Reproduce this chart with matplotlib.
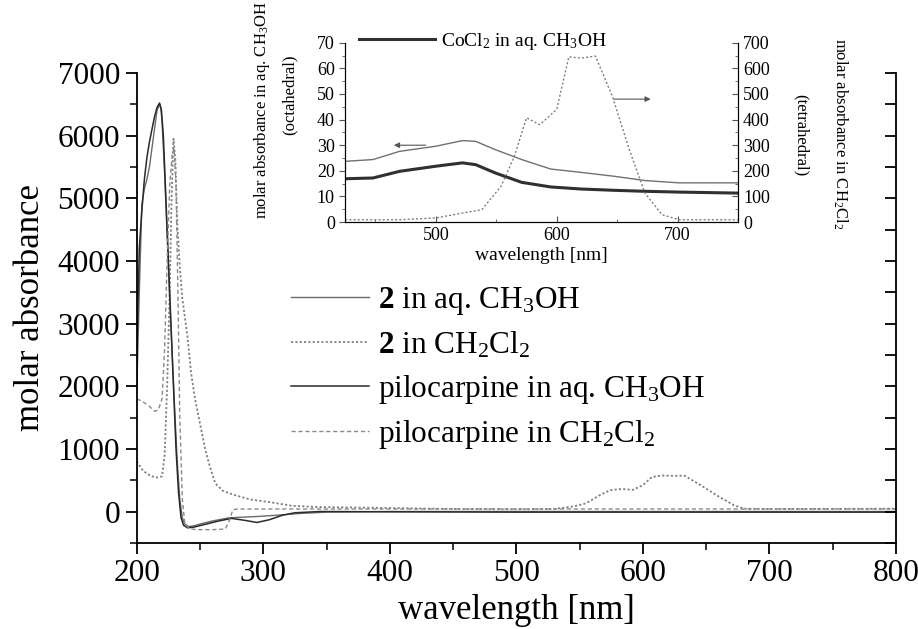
import matplotlib
matplotlib.use("Agg")
import matplotlib.pyplot as plt
from matplotlib.ticker import MultipleLocator

plt.rcParams['font.family'] = ['Liberation Serif', 'DejaVu Serif']
plt.rcParams['mathtext.fontset'] = 'custom'
plt.rcParams['mathtext.rm'] = 'Liberation Serif'
plt.rcParams['mathtext.it'] = 'Liberation Serif:italic'
plt.rcParams['mathtext.bf'] = 'Liberation Serif:bold'

# ---- main spectra (wavelength in nm, molar absorbance) ----
wl_2_aq = [200, 202, 204, 206, 208, 210, 212, 214, 216, 218, 219, 220, 222, 224, 226, 228,
           230, 232, 234, 236, 238, 241, 245, 250, 260, 273, 285, 295, 310, 330, 350, 400, 500, 600, 700, 800]
abs_2_aq = [1900, 3500, 4900, 5150, 5300, 5500, 5800, 6100, 6400, 6500, 6450, 6200, 5400, 4400, 3400, 2500,
            1600, 800, 200, -100, -200, -240, -230, -200, -150, -100, -90, -80, -60, -30, -10, 0, 0, 0, 0, 0]

wl_pilo_aq = [200, 202, 204, 206, 208, 210, 212, 214, 216, 218, 219.5, 221, 223, 225, 227, 229, 231,
              233, 235, 237, 240, 245, 255, 265, 275, 285, 295, 305, 315, 325, 345, 400, 500, 600, 700, 800]
abs_pilo_aq = [2500, 4200, 4800, 5300, 5650, 5900, 6100, 6300, 6450, 6520, 6400, 6000, 5000, 4000, 3000, 2000, 1000,
               300, -100, -220, -260, -250, -200, -150, -110, -140, -175, -130, -60, -20, 0, -5, -10, -10, -10, -10]

wl_2_dcm = [200, 205, 210, 215, 220, 222, 224, 226, 227.5, 229, 230.5, 232, 234, 236, 238, 240, 243, 246,
            250, 254, 258, 262, 268, 276, 290, 305, 323, 345, 385, 450, 500, 530, 545, 555, 565, 574, 583,
            592, 600, 607, 615, 622, 633, 644, 659, 672, 680, 700, 800]
abs_2_dcm = [800, 650, 580, 540, 560, 900, 2000, 3500, 5000, 5950, 5600, 4600, 3900, 3400, 3100, 2800, 2200, 1800,
             1400, 1000, 700, 450, 330, 270, 190, 150, 90, 70, 60, 40, 35, 40, 80, 130, 250, 340, 360,
             345, 420, 550, 575, 570, 570, 440, 250, 100, 45, 40, 45]

wl_pilo_dcm = [200, 205, 210, 214, 217, 220, 222, 224, 226, 228, 229.5, 231, 232.5, 234, 236, 238, 242,
               250, 260, 270, 273, 276, 280, 400, 600, 800]
abs_pilo_dcm = [1800, 1750, 1680, 1600, 1620, 1800, 2600, 4000, 5200, 5700, 5800, 5200, 3500, 1500, 200, -200, -280,
                -290, -290, -280, -150, 30, 40, 40, 40, 40]

# ---- inset: CoCl2 reference and complex 2 in the visible ----
wl_in = [425, 448, 470, 500, 522, 533, 549, 571, 595, 620, 647, 673, 701, 750]
oct_cocl2 = [16.9, 17.2, 19.8, 21.8, 23.1, 22.4, 19.2, 15.5, 13.7, 12.9, 12.4, 12.0, 11.7, 11.3]
oct_2 = [23.7, 24.4, 27.6, 29.6, 31.8, 31.5, 28.3, 24.4, 20.7, 19.4, 17.9, 16.2, 15.3, 15.3]

wl_tet = [425, 470, 500, 522, 538, 554, 565, 575, 586, 600, 610, 620, 632, 646, 660, 673, 687, 701, 750]
tet_2 = [9, 9, 16, 35, 48, 140, 257, 407, 380, 440, 645, 640, 648, 491, 283, 113, 29, 9, 9]

fig = plt.figure(figsize=(9.18, 6.29), dpi=100)
ax = fig.add_axes([0.149, 0.137, 0.827, 0.747])

ax.plot(wl_2_aq, abs_2_aq, color='#6a6a6a', lw=1.0, label=r'$\mathbf{2}$ in aq. CH$_3$OH')
ax.plot(wl_2_dcm, abs_2_dcm, color='#808080', lw=1.3, ls=(0, (1.2, 1.2)), label=r'$\mathbf{2}$ in CH$_2$Cl$_2$')
ax.plot(wl_pilo_aq, abs_pilo_aq, color='#2a2a2a', lw=1.1, label=r'pilocarpine in aq. CH$_3$OH')
ax.plot(wl_pilo_dcm, abs_pilo_dcm, color='#8a8a8a', lw=1.0, ls=(0, (3, 2)), label=r'pilocarpine in CH$_2$Cl$_2$')

ax.set_xlim(200, 800)
ax.set_ylim(-500, 7000)
ax.xaxis.set_major_locator(MultipleLocator(100))
ax.xaxis.set_minor_locator(MultipleLocator(50))
ax.yaxis.set_major_locator(MultipleLocator(1000))
ax.yaxis.set_minor_locator(MultipleLocator(500))
ax.spines['top'].set_visible(False)
for s in ['left', 'bottom', 'right']:
    ax.spines[s].set_linewidth(1.3)
ax.tick_params(which='major', direction='out', length=8, width=1.3, labelsize=22.5, pad=4)
ax.tick_params(which='minor', direction='out', length=5, width=1.1)
ax.set_xlabel('wavelength [nm]', fontsize=25, labelpad=4)
ax.set_ylabel('molar absorbance', fontsize=25, labelpad=8)

# right spine ticks point inward
rax = ax.twinx()
rax.set_ylim(ax.get_ylim())
rax.yaxis.set_major_locator(MultipleLocator(500))
rax.tick_params(axis='y', direction='in', length=8, width=1.3, labelright=False)
for s in rax.spines.values():
    s.set_visible(False)

leg = ax.legend(loc='upper left', bbox_to_anchor=(0.203, 0.548), frameon=False, fontsize=22.5,
                handlelength=2.5, handletextpad=0.3, labelspacing=0.4, borderpad=0, borderaxespad=0)

# ---- inset ----
ins = fig.add_axes([0.376, 0.647, 0.428, 0.285])
ins.plot(wl_in, oct_cocl2, color='#303030', lw=2.2, label=r'CoCl$_2$ in aq. CH$_3$OH')
ins.plot(wl_in, oct_2, color='#707070', lw=1.0)
ins.set_xlim(425, 750)
ins.set_ylim(0, 70)
ins.xaxis.set_major_locator(MultipleLocator(100))
ins.xaxis.set_minor_locator(MultipleLocator(50))
ins.yaxis.set_major_locator(MultipleLocator(10))
ins.yaxis.set_minor_locator(MultipleLocator(5))
ins.spines['top'].set_visible(False)
ins.tick_params(which='major', direction='out', length=4, labelsize=13, color='#555555')
ins.tick_params(which='minor', direction='out', length=2.5, color='#555555')
ins.tick_params(axis='x', which='both', direction='in')
ins.set_xlabel('wavelength [nm]', fontsize=14, labelpad=2)
ins.annotate('', xy=(463, 30), xytext=(494, 30),
             arrowprops=dict(arrowstyle='-|>', color='#555555', lw=0.8, mutation_scale=8))

ins2 = ins.twinx()
ins2.plot(wl_tet, tet_2, color='#808080', lw=1.0, ls=(0, (1.5, 1.5)))
ins2.set_ylim(0, 700)
ins2.yaxis.set_major_locator(MultipleLocator(100))
ins2.yaxis.set_minor_locator(MultipleLocator(50))
ins2.spines['top'].set_visible(False)
ins2.tick_params(which='major', direction='in', length=4, labelsize=13, color='#555555')
ins2.tick_params(which='minor', direction='in', length=2.5, color='#555555')
ins2.annotate('', xy=(680, 480), xytext=(645, 480),
              arrowprops=dict(arrowstyle='-|>', color='#555555', lw=0.8, mutation_scale=8))

ins.legend(loc='lower left', bbox_to_anchor=(0.035, 0.95), frameon=False, fontsize=14,
           handlelength=3.9, handletextpad=0.3, borderpad=0, borderaxespad=0)

fig.text(0.285, 0.825, r'molar absorbance in aq. CH$_3$OH', rotation=90, fontsize=12, ha='center', va='center')
fig.text(0.316, 0.85, '(octahedral)', rotation=90, fontsize=12, ha='center', va='center')
fig.text(0.872, 0.785, '(tetrahedral)', rotation=270, fontsize=12, ha='center', va='center')
fig.text(0.915, 0.787, r'molar absorbance in CH$_2$Cl$_2$', rotation=270, fontsize=12, ha='center', va='center')

fig.savefig('out.png', dpi=100)
